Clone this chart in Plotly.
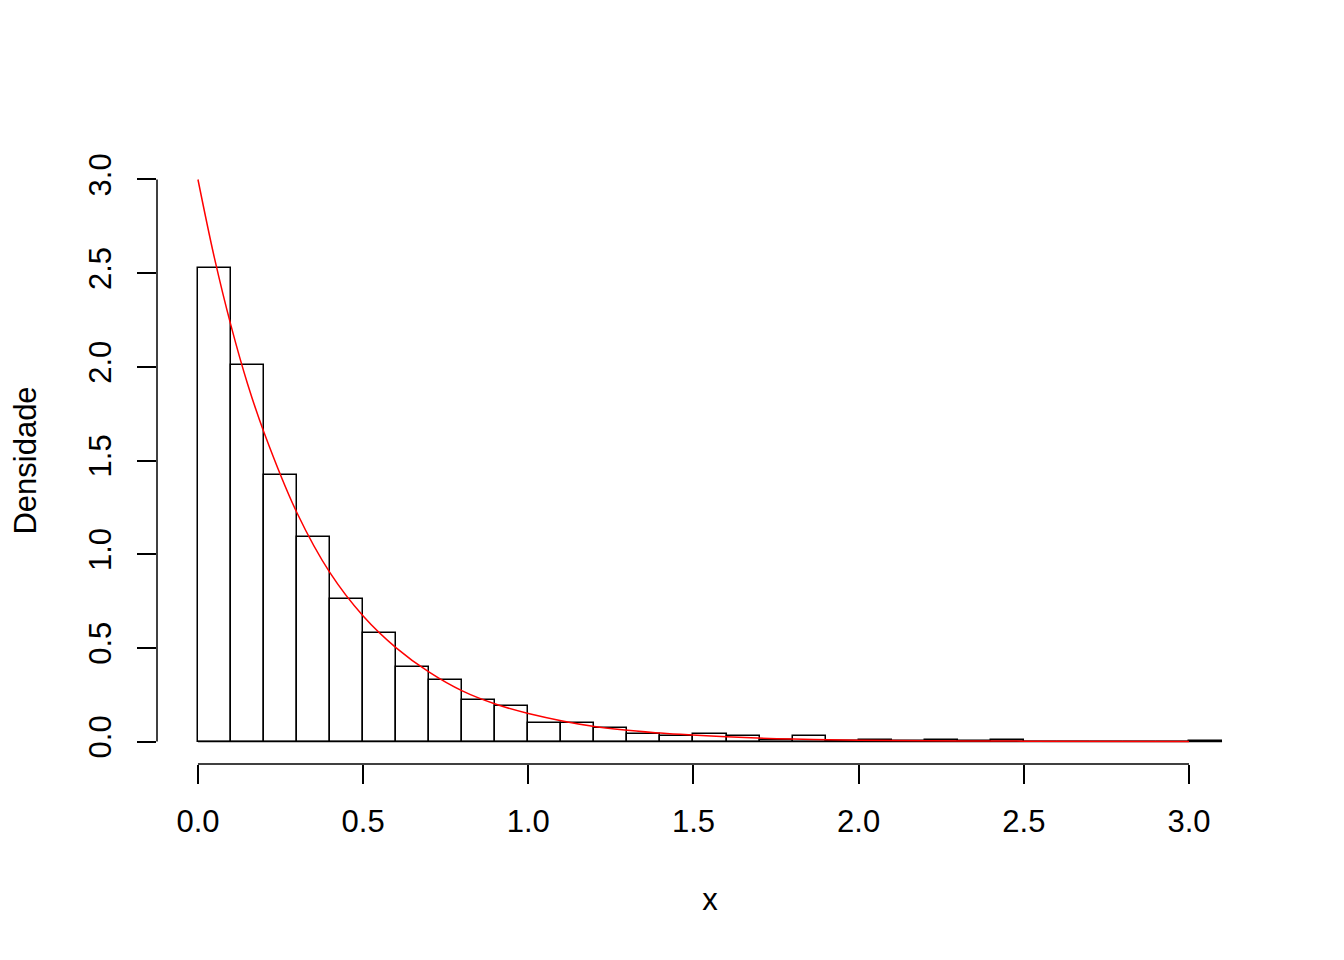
import plotly.graph_objects as go

# Histogram bins (width 0.1) from 0.0 to 3.1
bin_left = [round(0.1 * i, 1) for i in range(31)]
bin_width = 0.1
density = [2.53, 2.01, 1.42, 1.09, 0.76, 0.58, 0.40, 0.33, 0.22, 0.19,
           0.10, 0.10, 0.07, 0.04, 0.03, 0.04, 0.03, 0.01, 0.03, 0.004,
           0.01, 0.002, 0.01, 0.002, 0.01, 0.00, 0.00, 0.00, 0.00, 0.00,
           0.002]

# Red density curve
curve_x = [0.0, 0.05, 0.1, 0.15, 0.2, 0.3, 0.4, 0.5, 0.6, 0.7, 0.8, 0.9,
           1.0, 1.2, 1.4, 1.6, 1.8, 2.0, 2.5, 3.0]
curve_y = [3.00, 2.58, 2.22, 1.91, 1.65, 1.22, 0.90, 0.67, 0.50, 0.37, 0.27,
           0.20, 0.15, 0.08, 0.045, 0.025, 0.013, 0.007, 0.002, 0.0004]

tick_vals = [0.0, 0.5, 1.0, 1.5, 2.0, 2.5, 3.0]
tick_text = ["0.0", "0.5", "1.0", "1.5", "2.0", "2.5", "3.0"]

FONT = "Arial, Liberation Sans, sans-serif"
LW = 1.5

fig = go.Figure()
fig.add_trace(go.Bar(
    x=[b + bin_width / 2 for b in bin_left],
    y=density,
    width=bin_width,
    marker=dict(color="white", line=dict(color="black", width=LW)),
    showlegend=False,
))
# bottom edge of the bars (zero-height bins drawn as a line)
fig.add_trace(go.Scatter(
    x=[bin_left[0], bin_left[-1] + bin_width], y=[0, 0],
    mode="lines", line=dict(color="black", width=LW), showlegend=False,
))
fig.add_trace(go.Scatter(
    x=curve_x, y=curve_y, mode="lines", line_shape="spline",
    line=dict(color="#FF0000", width=1.5), showlegend=False,
))

# R-style axis lines spanning only the tick range
fig.add_shape(type="line", xref="x", yref="paper", x0=tick_vals[0], x1=tick_vals[-1],
              y0=0, y1=0, line=dict(color="black", width=LW))
fig.add_shape(type="line", xref="paper", yref="y", x0=0, x1=0,
              y0=tick_vals[0], y1=tick_vals[-1], line=dict(color="black", width=LW))

fig.update_layout(
    width=1344, height=960,
    margin=dict(l=149, r=89, t=149, b=204),
    paper_bgcolor="white", plot_bgcolor="white",
    font=dict(family=FONT, size=31, color="black"),
    bargap=0,
    xaxis=dict(
        range=[-0.124, 3.224], tickvals=tick_vals, ticktext=tick_text,
        ticks="outside", ticklen=19, tickwidth=LW, tickcolor="black",
        showgrid=False, zeroline=False, showline=False,
        ticklabelstandoff=11,
        title=dict(text="x", standoff=50, font=dict(size=31)),
    ),
    yaxis=dict(
        range=[-0.12, 3.12], tickvals=tick_vals, ticktext=tick_text,
        ticks="outside", ticklen=19, tickwidth=LW, tickcolor="black",
        showgrid=False, zeroline=False, showline=False,
        tickangle=-90, ticklabelstandoff=14,
        title=dict(text="Densidade", standoff=38, font=dict(size=31)),
    ),
)

fig.write_html("out.html")
